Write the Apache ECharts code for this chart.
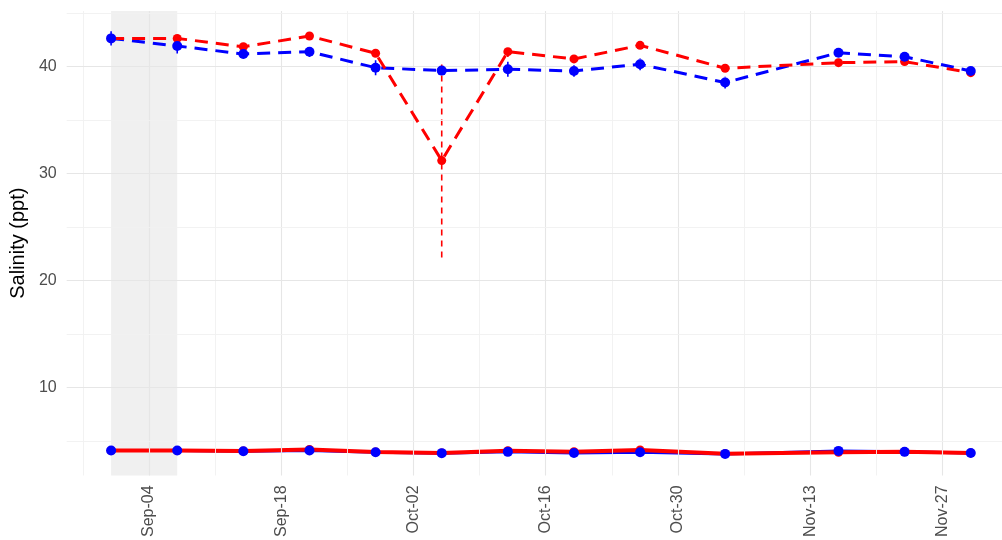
<!DOCTYPE html>
<html>
<head>
<meta charset="utf-8">
<script src="https://cdn.jsdelivr.net/npm/echarts@6/dist/echarts.min.js"></script>
<style>
html,body{margin:0;padding:0;background:#fff;}
#chart{width:1002px;height:540px;}
</style>
</head>
<body>
<div id="chart"></div>
<script>
// ---- data ----
const sampleDates = ['2023-08-31','2023-09-07','2023-09-14','2023-09-21','2023-09-28','2023-10-05','2023-10-12','2023-10-19','2023-10-26','2023-11-04','2023-11-16','2023-11-23','2023-11-30'];
const redDashed    = [42.64, 42.64, 41.86, 42.86, 41.25, 31.22, 41.40, 40.72, 41.99, 39.85, 40.37, 40.47, 39.44];
const redDashedErr = [0.3, 0.3, 0.3, 0.3, 0.35, 9.05, 0.5, 0.35, 0.3, 0.3, 0.3, 0.3, 0.3];
const blueDashed    = [42.64, 41.93, 41.18, 41.40, 39.90, 39.63, 39.75, 39.60, 40.22, 38.51, 41.30, 40.93, 39.60];
const blueDashedErr = [0.66, 0.70, 0.40, 0.50, 0.70, 0.30, 0.70, 0.55, 0.55, 0.55, 0.35, 0.25, 0.25];
const redSolid  = [4.12, 4.12, 4.08, 4.22, 3.99, 3.90, 4.10, 4.02, 4.18, 3.83, 3.96, 4.02, 3.90];
const blueSolid = [4.12, 4.12, 4.06, 4.12, 3.97, 3.88, 4.00, 3.90, 3.97, 3.81, 4.09, 4.00, 3.90];
const tickDates  = ['2023-09-04','2023-09-18','2023-10-02','2023-10-16','2023-10-30','2023-11-13','2023-11-27'];
const tickLabels = ['Sep-04','Sep-18','Oct-02','Oct-16','Oct-30','Nov-13','Nov-27'];
const minorDates = ['2023-08-28','2023-09-11','2023-09-25','2023-10-09','2023-10-23','2023-11-06','2023-11-20','2023-12-04'];
const yTicks = [10, 20, 30, 40];
const yMinor = [5, 15, 25, 35, 45];
const shadeRange = ['2023-08-31', '2023-09-07'];
const xRange = ['2023-08-26T07:12', '2023-12-03T07:26'];
const yRange = [1.8, 45.2];

// ---- helpers ----
const DAY = 86400000;
const ref = Date.UTC(2023, 8, 4);
function dayNum(s) {
  const p = s.split(/[-T:]/).map(Number);
  const t = Date.UTC(p[0], p[1] - 1, p[2], p[3] || 0, p[4] || 0);
  return (t - ref) / DAY;
}
const xs = sampleDates.map(dayNum);
const tickX = tickDates.map(dayNum);
const labelMap = {};
tickX.forEach((v, i) => { labelMap[v] = tickLabels[i]; });

const RED = '#FF0000', BLUE = '#0000FF';
const FONT = 'Liberation Sans, Arial, sans-serif';
const pts = (vals) => vals.map((v, i) => [xs[i], v]);
const errData = (vals, errs) => vals.map((v, i) => [xs[i], v - errs[i], v + errs[i]]);

function errSeries(vals, errs, color, dashed, z) {
  return {
    type: 'custom', z: z, silent: true,
    data: errData(vals, errs),
    encode: { x: 0, y: [1, 2] },
    renderItem: function (params, api) {
      const a = api.coord([api.value(0), api.value(1)]);
      const b = api.coord([api.value(0), api.value(2)]);
      return {
        type: 'line',
        shape: { x1: a[0], y1: a[1], x2: b[0], y2: b[1] },
        style: { stroke: color, lineWidth: 1.6, lineDash: dashed ? [6, 5] : null }
      };
    }
  };
}

const gridLines = [];
tickX.forEach(v => gridLines.push({ xAxis: v, lineStyle: { color: '#e6e6e6', width: 1.1, type: 'solid' } }));
minorDates.map(dayNum).forEach(v => gridLines.push({ xAxis: v, lineStyle: { color: '#f1f1f1', width: 0.9, type: 'solid' } }));
yTicks.forEach(v => gridLines.push({ yAxis: v, lineStyle: { color: '#e6e6e6', width: 1.1, type: 'solid' } }));
yMinor.forEach(v => gridLines.push({ yAxis: v, lineStyle: { color: '#f1f1f1', width: 0.9, type: 'solid' } }));

const dot = (color) => ({ color: color, opacity: 1 });

const chart = echarts.init(document.getElementById('chart'), null, { renderer: 'canvas' });
chart.setOption({
  animation: false,
  backgroundColor: '#ffffff',
  grid: { left: 65, right: 0, top: 11, bottom: 63, containLabel: false },
  xAxis: {
    type: 'value',
    min: dayNum(xRange[0]), max: dayNum(xRange[1]),
    axisLine: { show: false }, axisTick: { show: false }, splitLine: { show: false },
    axisLabel: {
      customValues: tickX,
      rotate: 90, margin: 10,
      color: '#4d4d4d', fontSize: 16, fontFamily: FONT,
      formatter: v => labelMap[v] || ''
    }
  },
  yAxis: {
    type: 'value',
    min: yRange[0], max: yRange[1],
    name: 'Salinity (ppt)', nameLocation: 'middle', nameRotate: 90, nameGap: 32,
    nameTextStyle: { color: '#000', fontSize: 20, fontFamily: FONT },
    axisLine: { show: false }, axisTick: { show: false }, splitLine: { show: false },
    axisLabel: {
      customValues: yTicks, margin: 10,
      color: '#4d4d4d', fontSize: 16, fontFamily: FONT
    }
  },
  series: [
    {
      type: 'line', data: [], z: 0, silent: true, symbol: 'none',
      markArea: {
        silent: true,
        itemStyle: { color: '#f0f0f0' },
        data: [[{ xAxis: dayNum(shadeRange[0]) }, { xAxis: dayNum(shadeRange[1]) }]]
      },
      markLine: {
        silent: true, symbol: ['none', 'none'], label: { show: false },
        animation: false,
        data: gridLines
      }
    },
    errSeries(blueDashed, blueDashedErr, BLUE, true, 2),
    errSeries(redDashed, redDashedErr, RED, true, 2),
    {
      type: 'line', data: pts(blueSolid), z: 3, symbol: 'none',
      lineStyle: { color: BLUE, width: 3 }
    },
    {
      type: 'line', data: pts(redSolid), z: 4, symbol: 'none',
      lineStyle: { color: RED, width: 4 }
    },
    {
      type: 'line', data: pts(blueDashed), z: 5, symbol: 'none',
      lineStyle: { color: BLUE, width: 3, type: [13, 8] }
    },
    {
      type: 'line', data: pts(redDashed), z: 6, symbol: 'none',
      lineStyle: { color: RED, width: 3, type: [13, 8] }
    },
    { type: 'scatter', data: pts(redSolid), z: 7, symbolSize: 9, itemStyle: dot(RED) },
    { type: 'scatter', data: pts(redDashed), z: 7, symbolSize: 9, itemStyle: dot(RED) },
    { type: 'scatter', data: pts(blueSolid), z: 8, symbolSize: 10, itemStyle: dot(BLUE) },
    { type: 'scatter', data: pts(blueDashed), z: 8, symbolSize: 10, itemStyle: dot(BLUE) }
  ]
});
</script>
</body>
</html>
